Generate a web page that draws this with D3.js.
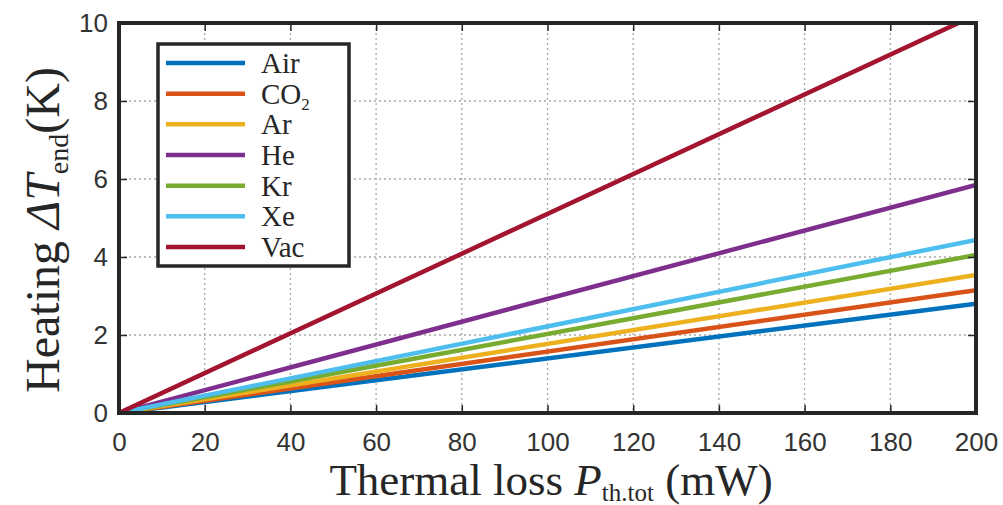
<!DOCTYPE html>
<html lang="en">
<head>
<meta charset="utf-8">
<title>Heating vs thermal loss</title>
<style>
  body { margin: 0; background: #fff; }
  .serif { font-family: "Liberation Serif", "Times New Roman", serif; fill: #262626; }
</style>
</head>
<body>
<div id="chart"></div>
<script src="https://d3js.org/d3.v7.min.js"></script>
<script>
// data: heating at 0 mW and at 200 mW (lines are linear)
var gases = ["Air", "CO2", "Ar", "He", "Kr", "Xe", "Vac"];
var powerPts = [0, 200];
var airVals = [0, 2.80];
var co2Vals = [0, 3.15];
var arVals  = [0, 3.54];
var heVals  = [0, 5.85];
var krVals  = [0, 4.05];
var xeVals  = [0, 4.44];
var vacVals = [0, 10.21];
var xTicks = [0, 20, 40, 60, 80, 100, 120, 140, 160, 180, 200];
var yTicks = [0, 2, 4, 6, 8, 10];
var colors = ["#0072BD", "#D95319", "#EDB120", "#7E2F8E", "#77AC30", "#4DBEEE", "#A2142F"];

var allVals = [airVals, co2Vals, arVals, heVals, krVals, xeVals, vacVals];
var series = gases.map(function(g, i) {
  return { name: g, color: colors[i], pts: powerPts.map(function(p, j) { return [p, allVals[i][j]]; }) };
});

var W = 1003, H = 505;
var margin = {top: 23, right: 27, bottom: 92, left: 119};
var width = W - margin.left - margin.right,
    height = H - margin.top - margin.bottom;

var svg = d3.select("#chart").append("svg")
  .attr("width", W).attr("height", H);
var g = svg.append("g").attr("transform", "translate(" + margin.left + "," + margin.top + ")");

var x = d3.scaleLinear().domain([0, 200]).range([0, width]);
var y = d3.scaleLinear().domain([0, 10]).range([height, 0]);

// grid
g.append("g").selectAll("line").data(xTicks.slice(1, -1)).enter().append("line")
  .attr("x1", function(d) { return x(d); }).attr("x2", function(d) { return x(d); })
  .attr("y1", 0).attr("y2", height)
  .attr("stroke", "#a8a8a8").attr("stroke-width", 1.3).attr("stroke-dasharray", "2,3");
g.append("g").selectAll("line").data(yTicks.slice(1, -1)).enter().append("line")
  .attr("y1", function(d) { return y(d); }).attr("y2", function(d) { return y(d); })
  .attr("x1", 0).attr("x2", width)
  .attr("stroke", "#a8a8a8").attr("stroke-width", 1.3).attr("stroke-dasharray", "2,3");

// lines
g.append("clipPath").attr("id", "clip").append("rect")
  .attr("x", 0).attr("y", 0).attr("width", width).attr("height", height);
var line = d3.line().x(function(d) { return x(d[0]); }).y(function(d) { return y(d[1]); });
g.append("g").attr("clip-path", "url(#clip)").selectAll("path").data(series).enter().append("path")
  .attr("d", function(d) { return line(d.pts); })
  .attr("fill", "none").attr("stroke", function(d) { return d.color; })
  .attr("stroke-width", 4.5);

// axes
var xAxis = g.append("g").attr("transform", "translate(0," + height + ")")
  .call(d3.axisBottom(x).tickValues(xTicks).tickSizeInner(-8).tickSizeOuter(0).tickPadding(20));
var yAxis = g.append("g")
  .call(d3.axisLeft(y).tickValues(yTicks).tickSizeInner(-8).tickSizeOuter(0).tickPadding(11));
g.append("g")
  .call(d3.axisTop(x).tickValues(xTicks).tickSizeInner(-8).tickSizeOuter(0).tickFormat(""));
g.append("g").attr("transform", "translate(" + width + ",0)")
  .call(d3.axisRight(y).tickValues(yTicks).tickSizeInner(-8).tickSizeOuter(0).tickFormat(""));
g.selectAll(".domain").remove();
g.selectAll(".tick line").attr("stroke", "#262626").attr("stroke-width", 1.5);
[xAxis, yAxis].forEach(function(a) {
  a.attr("font-family", "'Liberation Sans', Arial, sans-serif").attr("font-size", 26);
  a.selectAll("text").attr("fill", "#333");
});

g.append("rect").attr("x", 0).attr("y", 0).attr("width", width).attr("height", height)
  .attr("fill", "none").attr("stroke", "#262626").attr("stroke-width", 4);

// axis titles
var xt = svg.append("text").attr("class", "serif")
  .attr("x", 551).attr("y", 495).attr("text-anchor", "middle").style("font-size", "45px");
xt.append("tspan").text("Thermal loss ");
xt.append("tspan").style("font-style", "italic").text("P");
xt.append("tspan").attr("dy", 6).style("font-size", "25px").text("th.tot");
xt.append("tspan").attr("dy", -6).text(" (mW)");

var yt = svg.append("text").attr("class", "serif")
  .attr("transform", "translate(59,230) rotate(-90)").attr("text-anchor", "middle").style("font-size", "48px");
yt.append("tspan").text("Heating ");
yt.append("tspan").style("font-style", "italic").text("\u0394T");
yt.append("tspan").attr("dy", 9).style("font-size", "28px").text("end");
yt.append("tspan").attr("dy", -9).text("(K)");

// legend
var lg = svg.append("g");
lg.append("rect").attr("x", 158).attr("y", 44).attr("width", 191).attr("height", 222)
  .attr("fill", "#fff").attr("stroke", "#262626").attr("stroke-width", 3.5);
var rowY = d3.scalePoint().domain(gases).range([63, 247]);
var rows = lg.selectAll("g.row").data(series).enter().append("g").attr("class", "row")
  .attr("transform", function(d) { return "translate(0," + rowY(d.name) + ")"; });
rows.append("line").attr("x1", 166).attr("x2", 245).attr("y1", 0).attr("y2", 0)
  .attr("stroke", function(d) { return d.color; }).attr("stroke-width", 4.5);
rows.each(function(d) {
  var t = d3.select(this).append("text").attr("class", "serif")
    .attr("x", 261).attr("y", 10).style("font-size", "29px");
  if (d.name === "CO2") {
    t.append("tspan").text("CO");
    t.append("tspan").attr("dy", 6).style("font-size", "17px").text("2");
  } else {
    t.text(d.name);
  }
});
</script>
</body>
</html>
